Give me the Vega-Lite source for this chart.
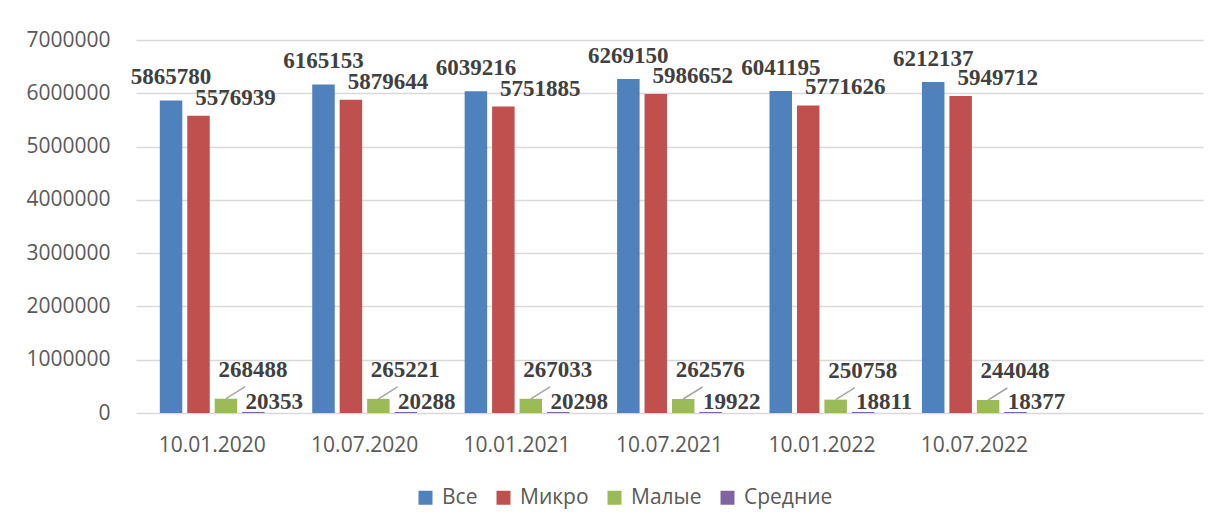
{
  "$schema": "https://vega.github.io/schema/vega-lite/v6.json",
  "autosize": "none",
  "width": 1067,
  "height": 373,
  "padding": {"left": 136, "top": 40, "right": 16, "bottom": 118},
  "background": "white",
  "config": {
    "font": "Open Sans",
    "view": {"stroke": null},
    "axis": {"labelColor": "#595959", "labelFont": "Open Sans", "labelFontSize": 21, "title": null}
  },
  "data": {
    "values": [
      {"date": "10.01.2020", "series": "Все", "value": 5865780},
      {"date": "10.01.2020", "series": "Микро", "value": 5576939},
      {"date": "10.01.2020", "series": "Малые", "value": 268488},
      {"date": "10.01.2020", "series": "Средние", "value": 20353},
      {"date": "10.07.2020", "series": "Все", "value": 6165153},
      {"date": "10.07.2020", "series": "Микро", "value": 5879644},
      {"date": "10.07.2020", "series": "Малые", "value": 265221},
      {"date": "10.07.2020", "series": "Средние", "value": 20288},
      {"date": "10.01.2021", "series": "Все", "value": 6039216},
      {"date": "10.01.2021", "series": "Микро", "value": 5751885},
      {"date": "10.01.2021", "series": "Малые", "value": 267033},
      {"date": "10.01.2021", "series": "Средние", "value": 20298},
      {"date": "10.07.2021", "series": "Все", "value": 6269150},
      {"date": "10.07.2021", "series": "Микро", "value": 5986652},
      {"date": "10.07.2021", "series": "Малые", "value": 262576},
      {"date": "10.07.2021", "series": "Средние", "value": 19922},
      {"date": "10.01.2022", "series": "Все", "value": 6041195},
      {"date": "10.01.2022", "series": "Микро", "value": 5771626},
      {"date": "10.01.2022", "series": "Малые", "value": 250758},
      {"date": "10.01.2022", "series": "Средние", "value": 18811},
      {"date": "10.07.2022", "series": "Все", "value": 6212137},
      {"date": "10.07.2022", "series": "Микро", "value": 5949712},
      {"date": "10.07.2022", "series": "Малые", "value": 244048},
      {"date": "10.07.2022", "series": "Средние", "value": 18377}
    ]
  },
  "encoding": {
    "x": {
      "field": "date", "type": "nominal",
      "scale": {"domain": ["10.01.2020", "10.07.2020", "10.01.2021", "10.07.2021", "10.01.2022", "10.07.2022", "_"], "paddingInner": 0.28, "paddingOuter": 0.14},
      "axis": {"labelAngle": 0, "domain": false, "ticks": false, "labelPadding": 21, "labelExpr": "datum.value == '_' ? '' : datum.value"}
    },
    "xOffset": {
      "field": "series", "type": "nominal",
      "scale": {"domain": ["Все", "Микро", "Малые", "Средние"], "paddingInner": 0.18, "paddingOuter": 0.09}
    },
    "y": {
      "field": "value", "type": "quantitative",
      "scale": {"domain": [0, 7000000], "nice": false},
      "axis": {"values": [0, 1000000, 2000000, 3000000, 4000000, 5000000, 6000000, 7000000], "format": "d", "domain": false, "ticks": false, "labelPadding": 26, "gridColor": "#d9d9d9", "gridWidth": 1.5}
    }
  },
  "layer": [
    {
      "mark": {"type": "bar"},
      "encoding": {
        "color": {
          "field": "series", "type": "nominal",
          "scale": {"domain": ["Все", "Микро", "Малые", "Средние"], "range": ["#4F81BD", "#C0504D", "#9BBB59", "#8064A2"]},
          "legend": {
            "title": null, "orient": "none", "direction": "horizontal",
            "legendX": 279, "legendY": 447,
            "symbolType": "square", "symbolSize": 196, "symbolStrokeWidth": 0,
            "labelFontSize": 21, "labelColor": "#595959", "labelFont": "Open Sans",
            "columnPadding": 15, "labelOffset": 6
          }
        }
      }
    },
    {
      "transform": [{"filter": "datum.series == 'Малые'"}],
      "mark": {"type": "rule", "color": "#a6a6a6", "strokeWidth": 1.5, "x2Offset": 33, "y2Offset": -12},
      "encoding": {
        "x2": {"field": "date"},
        "y2": {"field": "value"}
      }
    },
    {
      "transform": [{"filter": "datum.series == 'Все'"}],
      "mark": {"type": "text", "font": "Liberation Serif", "fontWeight": "bold", "fontSize": 23, "color": "#404040", "baseline": "middle", "dy": -23, "dx": 0},
      "encoding": {"text": {"field": "value", "type": "quantitative", "format": "d"}}
    },
    {
      "transform": [{"filter": "datum.series == 'Микро'"}],
      "mark": {"type": "text", "font": "Liberation Serif", "fontWeight": "bold", "fontSize": 23, "color": "#404040", "baseline": "middle", "dy": -18, "dx": 37},
      "encoding": {"text": {"field": "value", "type": "quantitative", "format": "d"}}
    },
    {
      "transform": [{"filter": "datum.series == 'Малые'"}],
      "mark": {"type": "text", "font": "Liberation Serif", "fontWeight": "bold", "fontSize": 23, "color": "#404040", "baseline": "middle", "dy": -29, "dx": 27},
      "encoding": {"text": {"field": "value", "type": "quantitative", "format": "d"}}
    },
    {
      "transform": [{"filter": "datum.series == 'Средние'"}],
      "mark": {"type": "text", "font": "Liberation Serif", "fontWeight": "bold", "fontSize": 23, "color": "#404040", "baseline": "middle", "dy": -10, "dx": 21},
      "encoding": {"text": {"field": "value", "type": "quantitative", "format": "d"}}
    }
  ]
}
